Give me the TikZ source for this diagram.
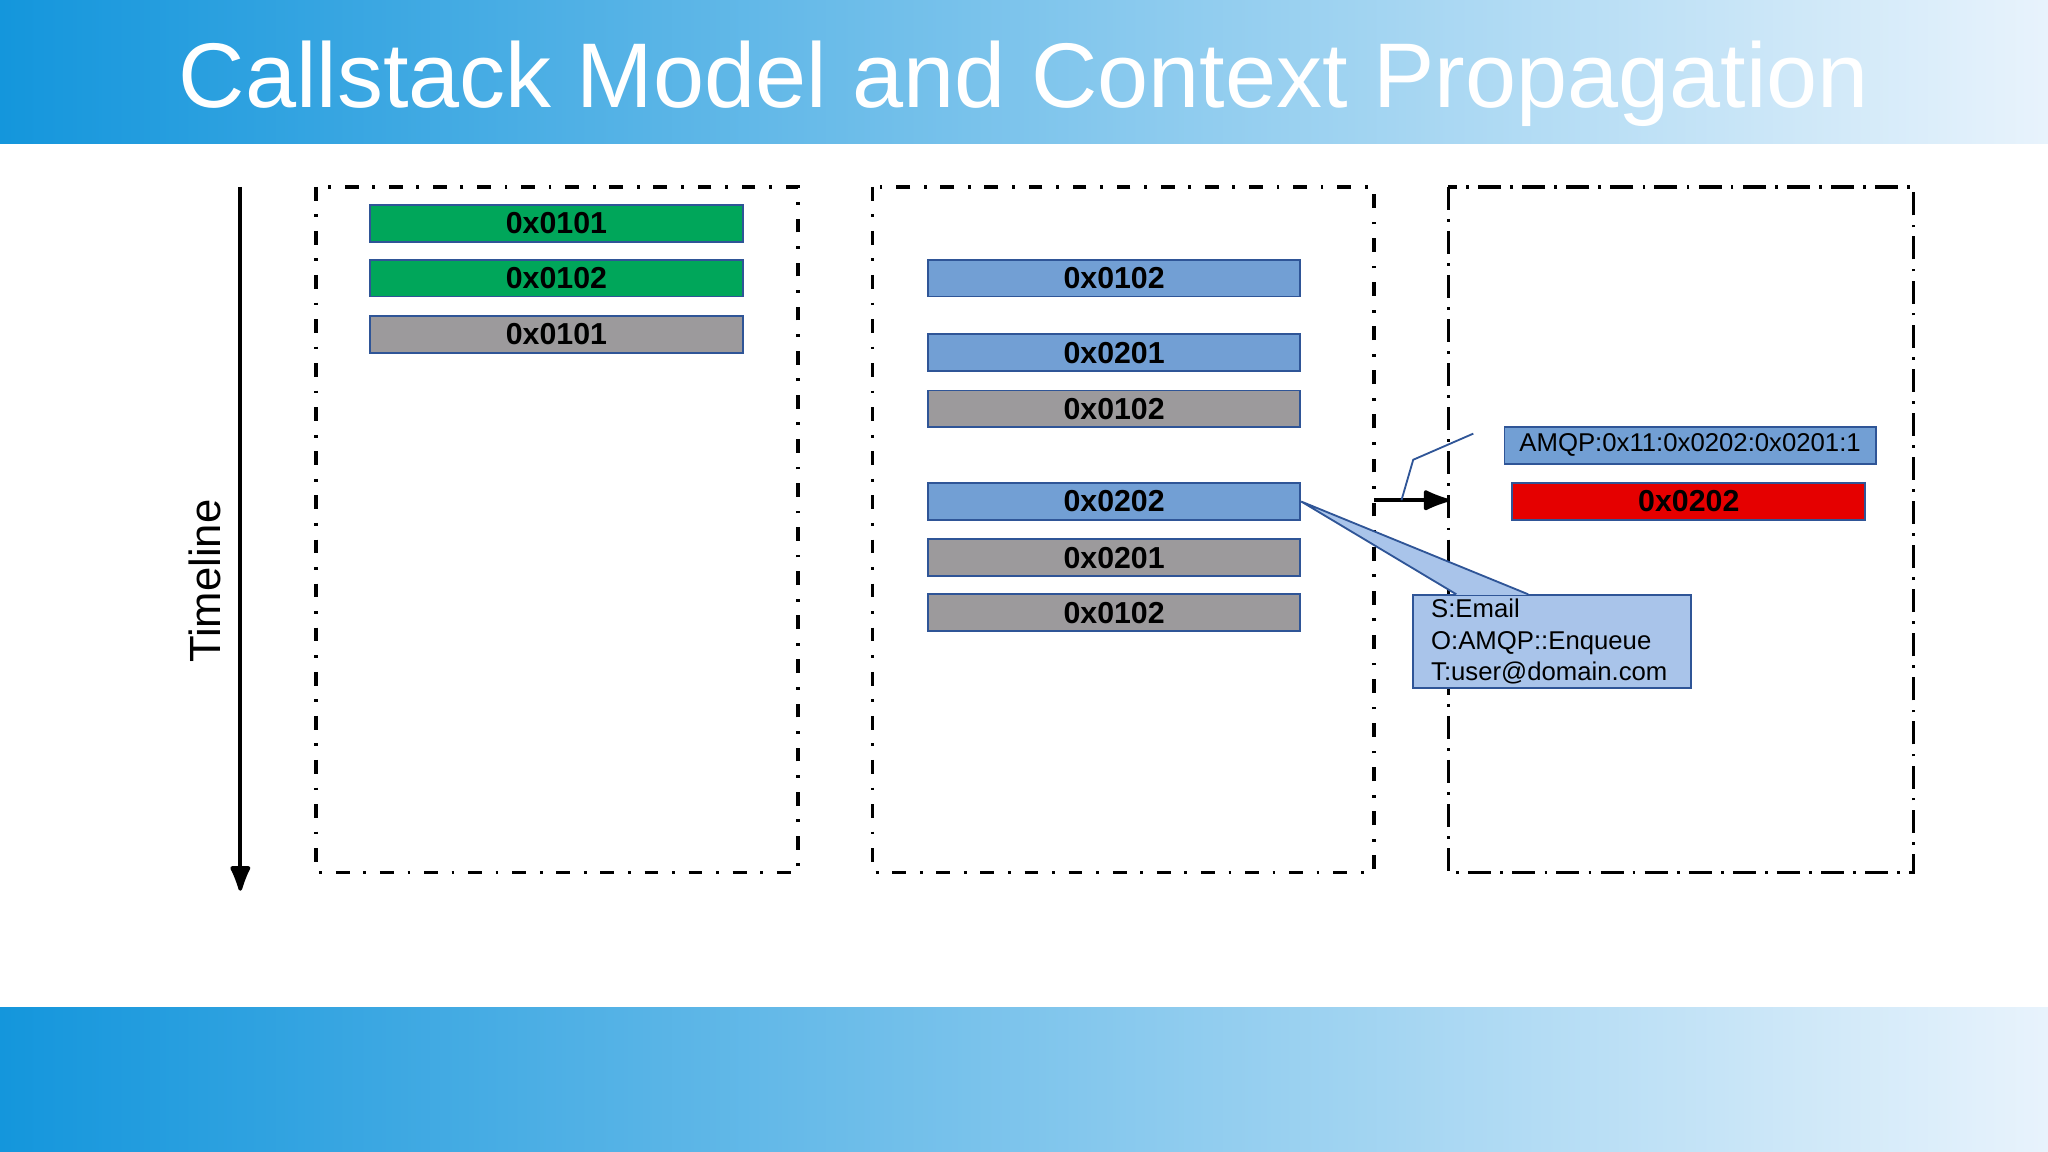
\documentclass[tikz,border=0pt]{standalone}
\usepackage{fontspec}
\setmainfont{Liberation Sans}
\usetikzlibrary{arrows.meta, positioning}
\tikzset{>={Latex[round]}}
\definecolor{bandleft}{HTML}{1496DC}
\definecolor{bandright}{HTML}{E8F3FC}
\definecolor{framegreen}{HTML}{00A65A}
\definecolor{frameblue}{HTML}{729FD4}
\definecolor{framegray}{HTML}{9C9A9C}
\definecolor{edgeblue}{HTML}{2F5597}
\definecolor{calloutblue}{HTML}{A9C4EA}

\begin{document}
\begin{tikzpicture}[
  x=0.01cm, y=-0.01cm,
  frame/.style={draw=edgeblue, thin, minimum width=2.85cm, minimum height=0.28cm, inner sep=0pt, font=\bfseries\fontsize{6.6}{7}\selectfont},
  green/.style={frame, fill=framegreen},
  blue/.style={frame, fill=frameblue},
  gray/.style={frame, fill=framegray},
  lane/.style={thick, dash pattern=on 3pt off 3pt on 0.6pt off 3pt},
  callout/.style={font=\fontsize{5.6}{6.8}\selectfont, align=left}
]
\useasboundingbox (0,0) rectangle (1568,882);

% header and footer bands
\shade[left color=bandleft, right color=bandright] (0,0) rectangle (1568,110);
\shade[left color=bandleft, right color=bandright] (0,771) rectangle (1568,882);
\node[text=white, font=\fontsize{20}{24}\selectfont] (title) at (784,64) {Callstack Model and Context Propagation};

% timeline
\draw[->, thick] (184,143) -- (184,682);
\node[rotate=90, font=\fontsize{9.5}{11}\selectfont] (timeline) at (157,445) {Timeline};

% process lanes
\draw[lane] (242,143) rectangle (611,668);
\draw[lane] (668,143) rectangle (1052,668);
\draw[thick, dash pattern=on 5pt off 2pt on 0.6pt off 2pt] (1109,143) rectangle (1465,668);

% first lane
\node[green] (a1) at (426,171) {0x0101};
\node[green] (a2) at (426,213) {0x0102};
\node[gray]  (a3) at (426,256) {0x0101};

% second lane
\node[blue] (b1) at (853,213) {0x0102};
\node[blue] (b2) at (853,270) {0x0201};
\node[gray] (b3) at (853,313) {0x0102};
\node[blue] (b4) at (853,384) {0x0202};
\node[gray] (b5) at (853,427) {0x0201};
\node[gray] (b6) at (853,469) {0x0102};

% third lane
\node[frame, fill=frameblue, minimum width=2.84cm, font=\fontsize{5.6}{7}\selectfont] (ctx) at (1294,341) {AMQP:0x11:0x0202:0x0201:1};
\node[frame, fill=red!90!black, minimum width=2.7cm] (c1) at (1293,384) {0x0202};

% propagation arrow
\coordinate (out) at (1052,383);
\coordinate (in) at (1109,383);
\draw[->, thick] (out) -- (in);
\draw[edgeblue] (1073,383) -- (1082,352) -- (1128,332);

% callout
\node[draw=edgeblue, fill=calloutblue, callout, minimum width=2.13cm, minimum height=0.71cm, anchor=north west, inner sep=0pt, text width=1.85cm] (note) at (1081,455) {S:Email\\O:AMQP::Enqueue\\T:user@domain.com};
\fill[calloutblue] (b4.east) -- (1115,455.5) -- (1170,455.5) -- cycle;
\draw[edgeblue] (1115,455) -- (b4.east) -- (1170,455);
\end{tikzpicture}
\end{document}
